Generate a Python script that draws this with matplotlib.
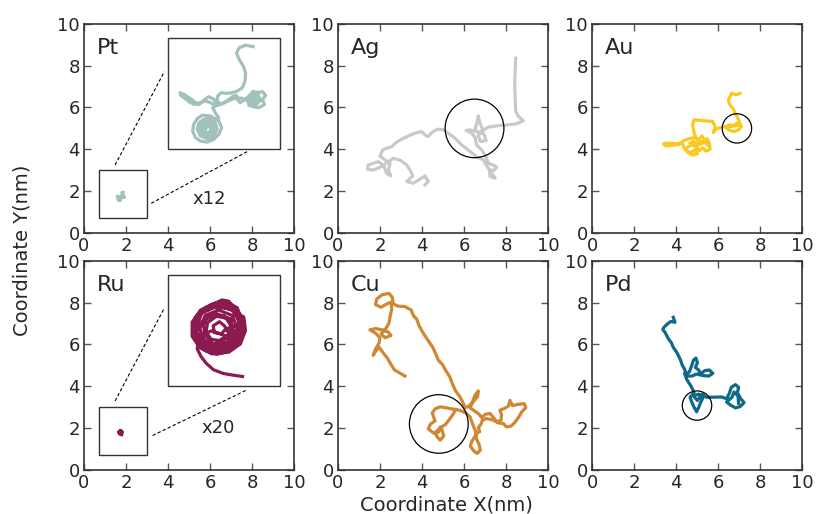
import numpy as np
import matplotlib
matplotlib.use("Agg")
import matplotlib.pyplot as plt
from matplotlib.patches import Circle, Rectangle

# trajectories in nm
pt_path = [(1.867, 1.938), (1.837, 1.944), (1.811, 1.933), (1.801, 1.912), (1.813, 1.885),
           (1.829, 1.859), (1.837, 1.832), (1.835, 1.801), (1.824, 1.775), (1.803, 1.760),
           (1.781, 1.754), (1.760, 1.752), (1.742, 1.755), (1.728, 1.744), (1.724, 1.726),
           (1.734, 1.708), (1.752, 1.715), (1.771, 1.728), (1.787, 1.740), (1.800, 1.744),
           (1.805, 1.726), (1.816, 1.715), (1.832, 1.726), (1.848, 1.739), (1.867, 1.760),
           (1.885, 1.755), (1.904, 1.759), (1.917, 1.744), (1.904, 1.728), (1.912, 1.708),
           (1.891, 1.695), (1.869, 1.699), (1.851, 1.704), (1.845, 1.723), (1.859, 1.736),
           (1.877, 1.742), (1.896, 1.722), (1.895, 1.730), (1.885, 1.748), (1.865, 1.748),
           (1.855, 1.730), (1.862, 1.712), (1.882, 1.710), (1.892, 1.722), (1.878, 1.735),
           (1.866, 1.725), (1.878, 1.718), (1.877, 1.708), (1.856, 1.715), (1.837, 1.728),
           (1.816, 1.734), (1.790, 1.731), (1.763, 1.720), (1.739, 1.708), (1.718, 1.702),
           (1.698, 1.715), (1.678, 1.722), (1.657, 1.715), (1.635, 1.708), (1.617, 1.716),
           (1.598, 1.730), (1.580, 1.744), (1.577, 1.755), (1.593, 1.748), (1.614, 1.734),
           (1.633, 1.720), (1.651, 1.707), (1.673, 1.726), (1.691, 1.739), (1.712, 1.728),
           (1.720, 1.707), (1.707, 1.694), (1.718, 1.673), (1.731, 1.654), (1.718, 1.649),
           (1.697, 1.662), (1.665, 1.665), (1.645, 1.651), (1.631, 1.629), (1.627, 1.602),
           (1.638, 1.576), (1.658, 1.562), (1.685, 1.558), (1.711, 1.569), (1.731, 1.589),
           (1.742, 1.615), (1.731, 1.642), (1.704, 1.655), (1.671, 1.649), (1.651, 1.633),
           (1.645, 1.609), (1.658, 1.582), (1.685, 1.572), (1.711, 1.582), (1.724, 1.609),
           (1.718, 1.633), (1.691, 1.642), (1.665, 1.629), (1.662, 1.602), (1.678, 1.585),
           (1.704, 1.593), (1.711, 1.619), (1.720, 1.615), (1.710, 1.640), (1.685, 1.650),
           (1.660, 1.640), (1.650, 1.615), (1.660, 1.590), (1.685, 1.580), (1.710, 1.590),
           (1.705, 1.618), (1.695, 1.633), (1.678, 1.632), (1.667, 1.617), (1.672, 1.600),
           (1.690, 1.596), (1.702, 1.605), (1.689, 1.625), (1.675, 1.606)]

ag_path = [(8.46, 8.36), (8.44, 7.80), (8.41, 7.16), (8.44, 6.36), (8.46, 5.81), (8.59, 5.57),
           (8.83, 5.37), (8.51, 5.22), (8.03, 5.17), (7.56, 5.12), (7.16, 5.06), (6.95, 4.93),
           (6.76, 4.77), (6.52, 4.93), (6.63, 5.33), (6.68, 5.60), (6.76, 5.25), (6.89, 4.96),
           (6.68, 4.64), (6.79, 4.37), (7.05, 4.42), (6.95, 4.74), (6.60, 4.85), (6.29, 4.93),
           (6.10, 4.90), (6.37, 4.77), (6.52, 4.58), (6.60, 4.21), (6.84, 3.97), (7.05, 3.65),
           (7.16, 3.33), (7.40, 3.25), (7.56, 3.14), (7.40, 2.98), (7.21, 3.01), (7.24, 2.70),
           (7.48, 2.62), (7.32, 2.85), (7.11, 3.17), (6.92, 3.49), (6.60, 3.65), (6.29, 3.89),
           (5.89, 4.21), (5.57, 4.53), (5.25, 4.77), (5.02, 4.93), (4.73, 4.96), (4.46, 4.80),
           (4.30, 4.61), (4.14, 4.69), (3.98, 4.85), (3.67, 4.77), (3.35, 4.64), (3.03, 4.48),
           (2.76, 4.32), (2.56, 4.13), (2.32, 4.05), (2.13, 3.97), (2.00, 3.68), (2.24, 3.49),
           (2.48, 3.33), (2.40, 3.01), (2.51, 2.73), (2.32, 2.85), (2.16, 3.25), (1.92, 3.41),
           (1.68, 3.33), (1.44, 3.25), (1.40, 3.05), (1.68, 3.01), (2.00, 3.14), (2.29, 3.33),
           (2.63, 3.57), (2.95, 3.49), (3.27, 3.25), (3.43, 3.01), (3.56, 2.73), (3.27, 2.46),
           (3.59, 2.38), (3.90, 2.57), (4.14, 2.73), (4.30, 2.46), (4.14, 2.30)]

au_path = [(7.05, 6.68), (6.86, 6.60), (6.65, 6.68), (6.57, 6.52), (6.49, 6.33), (6.57, 6.12),
           (6.73, 5.92), (6.81, 5.73), (6.92, 5.53), (7.02, 5.33), (7.05, 5.17), (6.81, 5.12),
           (6.57, 5.17), (6.38, 5.09), (6.49, 4.93), (6.76, 4.85), (6.98, 4.93), (7.11, 5.09),
           (6.92, 5.25), (6.65, 5.09), (6.17, 5.06), (5.90, 4.96), (5.78, 4.80), (5.86, 5.09),
           (5.75, 5.33), (5.30, 5.37), (4.86, 5.41), (4.79, 5.17), (4.86, 4.80), (4.95, 4.53),
           (5.14, 4.32), (5.33, 4.42), (5.49, 4.51), (5.59, 4.26), (5.62, 4.00), (5.43, 3.91),
           (5.27, 4.07), (5.11, 3.94), (4.95, 4.13), (4.75, 4.21), (4.54, 4.10), (4.48, 3.94),
           (4.70, 3.84), (4.90, 3.97), (5.02, 3.78), (4.79, 3.72), (4.54, 3.88), (4.35, 4.13),
           (4.29, 4.32), (4.06, 4.26), (3.81, 4.29), (3.56, 4.29), (3.40, 4.26), (3.52, 4.16),
           (3.78, 4.19), (4.13, 4.23), (4.38, 4.42), (4.63, 4.51), (4.86, 4.55), (5.08, 4.48),
           (5.24, 4.64), (5.40, 4.32), (5.56, 4.16), (5.46, 4.42), (5.27, 4.29), (5.06, 4.21),
           (4.83, 4.37), (4.67, 4.29)]

ru_path = [(1.679, 1.821), (1.695, 1.849), (1.722, 1.864), (1.750, 1.872), (1.774, 1.860),
           (1.790, 1.837), (1.798, 1.805), (1.788, 1.773), (1.766, 1.753), (1.734, 1.744),
           (1.706, 1.753), (1.685, 1.777), (1.677, 1.801), (1.683, 1.833), (1.706, 1.855),
           (1.738, 1.860), (1.770, 1.850), (1.786, 1.825), (1.791, 1.793), (1.778, 1.765),
           (1.750, 1.749), (1.718, 1.749), (1.695, 1.765), (1.680, 1.789), (1.679, 1.813),
           (1.687, 1.837), (1.714, 1.858), (1.758, 1.864), (1.782, 1.841), (1.788, 1.809),
           (1.782, 1.777), (1.758, 1.757), (1.726, 1.753), (1.699, 1.761), (1.683, 1.785),
           (1.677, 1.809), (1.691, 1.841), (1.726, 1.856), (1.762, 1.855), (1.798, 1.833),
           (1.802, 1.801), (1.790, 1.769), (1.762, 1.749), (1.722, 1.745), (1.693, 1.760),
           (1.675, 1.787), (1.675, 1.821), (1.695, 1.849), (1.742, 1.868), (1.782, 1.856),
           (1.794, 1.825), (1.780, 1.793), (1.758, 1.765), (1.722, 1.757), (1.695, 1.773),
           (1.683, 1.801), (1.688, 1.829), (1.710, 1.856), (1.746, 1.874), (1.762, 1.871),
           (1.778, 1.852), (1.796, 1.821), (1.782, 1.785), (1.758, 1.769), (1.726, 1.765),
           (1.699, 1.781), (1.691, 1.809), (1.702, 1.825), (1.734, 1.841), (1.766, 1.829),
           (1.774, 1.797), (1.758, 1.773), (1.726, 1.769), (1.706, 1.789), (1.702, 1.813),
           (1.710, 1.833), (1.750, 1.837), (1.770, 1.813), (1.762, 1.785), (1.734, 1.773),
           (1.783, 1.805), (1.770, 1.837), (1.738, 1.850), (1.706, 1.837), (1.693, 1.805),
           (1.706, 1.773), (1.738, 1.760), (1.770, 1.773), (1.768, 1.810), (1.757, 1.830),
           (1.733, 1.835), (1.712, 1.820), (1.708, 1.798), (1.720, 1.780), (1.745, 1.776),
           (1.764, 1.790), (1.752, 1.812), (1.740, 1.822), (1.725, 1.812), (1.728, 1.796),
           (1.745, 1.793), (1.755, 1.805), (1.790, 1.815), (1.775, 1.848), (1.735, 1.860),
           (1.697, 1.842), (1.684, 1.800), (1.700, 1.765), (1.740, 1.752), (1.780, 1.770),
           (1.750, 1.790), (1.720, 1.800), (1.700, 1.790),
           (1.691, 1.777), (1.687, 1.757), (1.696, 1.739), (1.709, 1.722), (1.726, 1.707),
           (1.750, 1.698), (1.774, 1.694), (1.795, 1.691)]

cu_path = [(3.19, 4.49), (2.95, 4.63), (2.68, 4.79), (2.52, 5.05), (2.37, 5.32), (2.16, 5.59),
           (1.95, 5.87), (1.73, 5.59), (1.68, 5.48), (1.79, 5.79), (1.95, 6.06), (2.00, 6.32),
           (1.79, 6.54), (1.52, 6.70), (1.79, 6.76), (2.11, 6.70), (2.40, 6.59), (2.52, 6.43),
           (2.24, 6.32), (2.05, 6.51), (2.27, 6.75), (2.43, 7.02), (2.49, 7.38), (2.56, 7.70),
           (2.52, 8.02), (2.33, 7.94), (2.05, 7.78), (1.79, 7.90), (1.84, 8.17), (2.11, 8.38),
           (2.43, 8.44), (2.59, 8.25), (2.63, 7.94), (2.84, 7.84), (3.19, 7.81), (3.48, 7.65),
           (3.59, 7.38), (3.75, 7.21), (3.86, 6.90), (4.06, 6.54), (4.27, 6.22), (4.51, 5.87),
           (4.65, 5.56), (4.78, 5.24), (4.97, 5.05), (5.13, 4.76), (5.33, 4.44), (5.44, 4.13),
           (5.60, 3.78), (5.81, 3.49), (5.94, 3.24), (6.05, 2.98), (6.24, 3.05), (6.40, 3.25),
           (6.52, 3.57), (6.68, 3.78), (6.65, 3.52), (6.40, 3.21), (6.29, 2.98), (6.49, 2.83),
           (6.71, 2.67), (6.84, 2.51), (7.03, 2.67), (7.24, 2.70), (7.40, 2.51), (7.56, 2.30),
           (7.76, 2.38), (7.79, 2.62), (7.71, 2.86), (7.92, 2.94), (8.11, 3.05), (8.19, 3.33),
           (8.30, 3.08), (8.59, 3.14), (8.87, 3.17), (8.94, 2.98), (8.75, 2.78), (8.59, 2.51),
           (8.40, 2.25), (8.24, 2.10), (8.03, 2.06), (7.87, 2.22), (7.63, 2.25), (7.40, 2.38),
           (7.08, 2.46), (6.87, 2.38), (6.81, 2.19), (6.68, 2.03), (6.75, 1.83), (6.60, 1.75),
           (6.49, 1.56), (6.37, 1.37), (6.30, 1.14), (6.46, 0.92), (6.62, 0.79), (6.78, 0.95),
           (6.71, 1.24), (6.59, 1.49), (6.56, 1.83), (6.40, 2.22), (6.29, 2.54), (6.08, 2.73),
           (5.86, 2.83), (5.65, 2.89), (5.41, 2.92), (5.13, 2.98), (4.86, 3.02), (4.62, 2.92),
           (4.49, 2.73), (4.56, 2.51), (4.62, 2.35), (4.40, 2.19), (4.30, 1.97), (4.49, 1.81),
           (4.65, 1.71), (4.81, 1.84), (4.87, 2.06), (4.97, 1.87), (5.03, 1.62), (4.87, 1.43),
           (4.71, 1.59), (4.65, 1.81), (4.90, 2.03), (5.13, 2.19), (5.32, 2.44), (5.48, 2.67),
           (5.57, 2.83)]

pd_path = [(3.87, 7.30), (3.95, 7.06), (3.75, 7.10), (3.59, 6.98), (3.43, 6.83), (3.37, 6.71),
           (3.49, 6.56), (3.62, 6.30), (3.78, 6.08), (3.87, 5.86), (4.03, 5.63), (4.13, 5.44),
           (4.22, 5.24), (4.29, 5.03), (4.41, 4.81), (4.48, 4.59), (4.63, 4.68), (4.73, 4.94),
           (4.83, 5.25), (4.95, 5.35), (5.02, 5.13), (4.92, 4.90), (5.08, 4.78), (5.17, 4.59),
           (5.37, 4.75), (5.59, 4.78), (5.75, 4.62), (5.56, 4.49), (5.24, 4.52), (4.98, 4.59),
           (4.76, 4.49), (4.54, 4.49), (4.41, 4.62), (4.51, 4.33), (4.67, 4.08), (4.79, 3.86),
           (4.86, 3.70), (4.67, 3.48), (4.76, 3.22), (4.86, 3.00), (4.98, 2.78), (5.08, 3.00),
           (5.17, 3.22), (5.27, 3.44), (5.08, 3.63), (4.83, 3.54), (5.02, 3.32), (5.24, 3.63),
           (5.43, 3.48), (5.78, 3.48), (6.17, 3.49), (6.41, 3.41), (6.54, 3.67), (6.63, 3.95),
           (6.83, 4.08), (6.98, 3.95), (6.92, 3.70), (7.08, 3.41), (7.24, 3.22), (7.05, 3.03),
           (6.83, 2.97), (6.60, 3.10), (6.41, 3.25), (6.67, 3.48), (6.76, 3.73), (6.95, 3.54),
           (6.98, 3.19)]

labels = ["Pt", "Ag", "Au", "Ru", "Cu", "Pd"]
colors = ["#a2c1bb", "#c9c9c9", "#fbc820", "#8a1a50", "#cf8733", "#0e6a86"]
paths = [pt_path, ag_path, au_path, ru_path, cu_path, pd_path]

# marked circles (centre x, centre y, radius) for Ag, Au, Cu, Pd
circles = {"Ag": (6.5, 5.0, 1.4), "Au": (6.9, 5.0, 0.7),
           "Cu": (4.8, 2.2, 1.4), "Pd": (5.0, 3.08, 0.7)}

# zoomed insets for Pt and Ru
mags = {"Pt": 12, "Ru": 20}
zoom_src = {"Pt": (1.75, 1.75), "Ru": (1.75, 1.80)}
zoom_dst = (6.65, 6.65)
mag_text = {"Pt": (5.98, 1.63), "Ru": (6.38, 2.0)}
dash_lines = {"Pt": [([1.48, 3.83], [3.25, 7.72]), ([3.2, 7.83], [1.42, 3.92])],
              "Ru": [([1.48, 3.83], [3.3, 7.75]), ([3.27, 7.78], [1.65, 3.84])]}

txt = "#262626"
fig = plt.figure(figsize=(8.16, 5.14), dpi=100)
lefts = [0.1029, 0.4142, 0.7255]
bottoms = [0.5467, 0.0856]
w, h = 0.2574, 0.407

for i, (lab, col, path) in enumerate(zip(labels, colors, paths)):
    ax = fig.add_axes([lefts[i % 3], bottoms[i // 3], w, h])
    xy = np.array(path)
    ax.plot(xy[:, 0], xy[:, 1], color=col, lw=2.3, solid_joinstyle="round")

    if lab in mags:
        m = mags[lab]
        sx, sy = zoom_src[lab]
        ax.plot(zoom_dst[0] + m * (xy[:, 0] - sx), zoom_dst[1] + m * (xy[:, 1] - sy),
                color=col, lw=2.3, solid_joinstyle="round")
        ax.add_patch(Rectangle((0.7, 0.7), 2.3, 2.3, fill=False, ec="#333333", lw=1.0))
        ax.add_patch(Rectangle((4.0, 4.0), 5.35, 5.3, fill=False, ec="#333333", lw=1.0))
        for lx, ly in dash_lines[lab]:
            ax.plot(lx, ly, color="black", ls=(0, (3, 2)), lw=0.8)
        ax.text(*mag_text[lab], "x%d" % m, fontsize=13, color=txt, ha="center", va="center")

    if lab in circles:
        cx, cy, r = circles[lab]
        ax.add_patch(Circle((cx, cy), r, fill=False, ec="black", lw=0.9, zorder=5))

    ax.text(0.06, 0.93, lab, transform=ax.transAxes, fontsize=16, color=txt,
            ha="left", va="top")
    ax.set_xlim(0, 10)
    ax.set_ylim(0, 10)
    ax.set_xticks(range(0, 11, 2))
    ax.set_yticks(range(0, 11, 2))
    ax.tick_params(direction="in", top=True, right=True, length=5, width=1,
                   color="#555555", labelcolor=txt, labelsize=13, pad=3)
    for s in ax.spines.values():
        s.set_color("#333333")
        s.set_linewidth(1.2)

fig.text(22 / 816, 1 - 250 / 514, "Coordinate Y(nm)", rotation=90, fontsize=14,
         color=txt, ha="center", va="center")
fig.text(446 / 816, 1 - 505 / 514, "Coordinate X(nm)", fontsize=14,
         color=txt, ha="center", va="center")

fig.savefig("out.png", dpi=100)
